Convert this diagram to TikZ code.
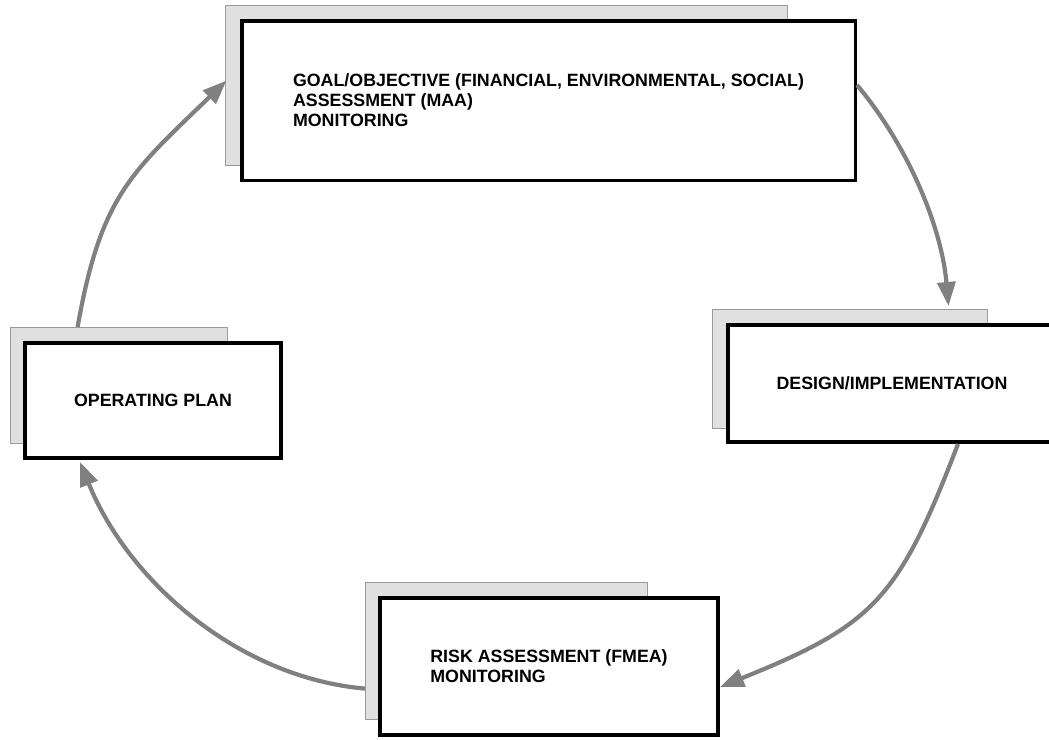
\documentclass[tikz,border=0pt]{standalone}
\usepackage{fontspec}
\setmainfont{Liberation Sans}
\usetikzlibrary{arrows.meta}
\definecolor{backfill}{HTML}{E0E0E0}
\definecolor{backline}{HTML}{9A9A9A}
\definecolor{arrowgray}{HTML}{808080}
\begin{document}
\begin{tikzpicture}[x=1pt,y=1pt,
  backbox/.style={draw=backline, fill=backfill, line width=1.2pt, inner sep=0pt, anchor=north west},
  mainbox/.style={draw=black, fill=white, line width=4pt, inner sep=0pt, anchor=center,
    font=\bfseries\fontsize{17.8}{20}\selectfont, align=left},
  flow/.style={draw=arrowgray, line width=4.2pt, -{Triangle[length=24pt,width=18pt,fill=arrowgray]}}
]
\fill[white] (0,0) rectangle (1049,-739);
\useasboundingbox (0,0) rectangle (1049,-739);

% back panels
\node[backbox, minimum width=562pt, minimum height=160pt] (topback) at (225,-5) {};
\node[backbox, minimum width=275pt, minimum height=119pt] (designback) at (712,-309) {};
\node[backbox, minimum width=217pt, minimum height=116pt] (opback) at (10,-327) {};
\node[backbox, minimum width=282pt, minimum height=137pt] (riskback) at (365,-582) {};

% main boxes
\node[mainbox, line width=3.5pt, minimum width=613.5pt, minimum height=159.5pt] (topmain) at (548.5,-100.5)
  {GOAL/OBJECTIVE (FINANCIAL, ENVIRONMENTAL, SOCIAL)\\ASSESSMENT (MAA)\\MONITORING};
\node[mainbox, minimum width=328pt, minimum height=117pt] (designmain) at (892,-383.5)
  {DESIGN/IMPLEMENTATION};
\node[mainbox, minimum width=256pt, minimum height=115pt] (opmain) at (153,-400.5)
  {OPERATING PLAN};
\node[mainbox, minimum width=338pt, minimum height=137pt] (riskmain) at (549,-666.5)
  {RISK ASSESSMENT (FMEA)\\MONITORING};

% connectors
\draw[flow] ([yshift=15.5pt]topmain.east) to[out=-50, in=95, looseness=0.85]
  ([xshift=236.5pt,yshift=3pt]designback.north west);
\draw[flow] ([xshift=66pt]designmain.south) to[out=-111, in=22, looseness=1.25]
  ([yshift=-20.5pt]riskmain.east);
\draw[flow] ([yshift=-37.5pt]riskback.west) to[out=175, in=-68, looseness=0.9]
  ([xshift=-73pt,yshift=-2pt]opmain.south);
\draw[flow] ([xshift=-41.5pt]opback.north) to[out=80, in=224, looseness=1.18]
  ([xshift=1.5pt,yshift=5pt]topback.west);
\end{tikzpicture}
\end{document}
